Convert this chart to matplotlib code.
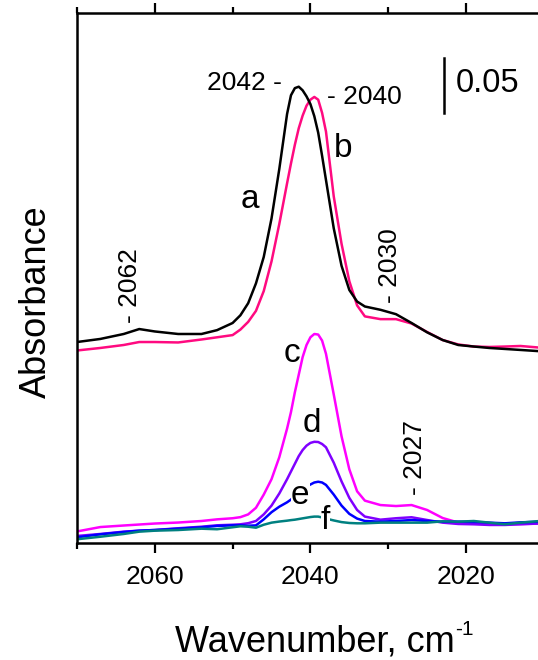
import matplotlib
matplotlib.use('Agg')
import matplotlib.pyplot as plt
from matplotlib.ticker import MultipleLocator

plt.rcParams['font.family'] = ['Liberation Sans', 'DejaVu Sans']

# ---------------- data (absorbance) ----------------
wavenumber = [2070, 2067, 2064, 2062, 2060, 2057, 2054, 2052, 2050, 2049,
              2048, 2047, 2046, 2045, 2044, 2043, 2042.5, 2042, 2041.5, 2041,
              2040.5, 2040, 2039.5, 2039, 2038.5, 2038, 2037, 2036, 2035, 2034,
              2033, 2031, 2029, 2027, 2025, 2023, 2021, 2019, 2017, 2015,
              2013, 2010]

spec_a = [0.1827, 0.1855, 0.1900, 0.1945, 0.1923, 0.1900, 0.1900, 0.1935, 0.2000, 0.2070,
          0.2180, 0.2360, 0.2600, 0.2950, 0.3400, 0.3900, 0.4070, 0.4135, 0.4148, 0.4115,
          0.4060, 0.3990, 0.3880, 0.3730, 0.3520, 0.3300, 0.2860, 0.2520, 0.2300, 0.2195,
          0.2150, 0.2120, 0.2080, 0.2000, 0.1915, 0.1845, 0.1800, 0.1786, 0.1773, 0.1764,
          0.1755, 0.1741]

spec_b = [0.1750, 0.1773, 0.1800, 0.1827, 0.1827, 0.1823, 0.1850, 0.1870, 0.1890, 0.1940,
          0.2010, 0.2110, 0.2290, 0.2560, 0.2900, 0.3270, 0.3450, 0.3620, 0.3770, 0.3885,
          0.3975, 0.4030, 0.4055, 0.4030, 0.3910, 0.3740, 0.3150, 0.2720, 0.2380, 0.2160,
          0.2060, 0.2035, 0.2035, 0.1995, 0.1918, 0.1845, 0.1805, 0.1786, 0.1782, 0.1786,
          0.1791, 0.1773]

spec_c = [0.0105, 0.0145, 0.0159, 0.0168, 0.0177, 0.0186, 0.0200, 0.0215, 0.0225, 0.0235,
          0.0260, 0.0320, 0.0440, 0.0580, 0.0780, 0.1040, 0.1190, 0.1370, 0.1530, 0.1690,
          0.1800, 0.1870, 0.1900, 0.1895, 0.1840, 0.1720, 0.1350, 0.0970, 0.0670, 0.0470,
          0.0385, 0.0345, 0.0336, 0.0345, 0.0300, 0.0227, 0.0186, 0.0177, 0.0173, 0.0173,
          0.0173, 0.0177]

spec_d = [0.0064, 0.0082, 0.0103, 0.0112, 0.0118, 0.0134, 0.0148, 0.0161, 0.0166, 0.0170,
          0.0180, 0.0200, 0.0260, 0.0340, 0.0450, 0.0580, 0.0650, 0.0720, 0.0790, 0.0845,
          0.0885, 0.0910, 0.0920, 0.0918, 0.0900, 0.0870, 0.0730, 0.0560, 0.0410, 0.0300,
          0.0240, 0.0212, 0.0225, 0.0234, 0.0209, 0.0185, 0.0173, 0.0170, 0.0164, 0.0164,
          0.0170, 0.0179]

spec_e = [0.0052, 0.0079, 0.0100, 0.0112, 0.0118, 0.0130, 0.0143, 0.0155, 0.0161, 0.0161,
          0.0157, 0.0160, 0.0215, 0.0280, 0.0330, 0.0370, 0.0395, 0.0425, 0.0455, 0.0485,
          0.0512, 0.0532, 0.0550, 0.0557, 0.0550, 0.0528, 0.0440, 0.0340, 0.0265, 0.0222,
          0.0200, 0.0194, 0.0200, 0.0209, 0.0200, 0.0194, 0.0194, 0.0191, 0.0185, 0.0179,
          0.0188, 0.0194]

spec_f = [0.0034, 0.0057, 0.0082, 0.0103, 0.0112, 0.0118, 0.0130, 0.0125, 0.0143, 0.0152,
          0.0148, 0.0139, 0.0166, 0.0185, 0.0195, 0.0203, 0.0208, 0.0212, 0.0218, 0.0224,
          0.0230, 0.0236, 0.0240, 0.0240, 0.0232, 0.0222, 0.0205, 0.0190, 0.0182, 0.0179,
          0.0179, 0.0185, 0.0185, 0.0185, 0.0185, 0.0197, 0.0194, 0.0200, 0.0185, 0.0170,
          0.0185, 0.0203]

# band positions marked on the plot
peak_labels = ['2062', '2030', '2027']
peak_pos = [2063.2, 2029.8, 2026.6]
peak_base = [0.200, 0.218, 0.0436]

scale_bar = 0.05

# ---------------- figure ----------------
W, H = 538, 660
fig = plt.figure(figsize=(W / 100, H / 100), dpi=100)
ax = fig.add_axes([77 / W, 117 / H, 1 - 77 / W, 530 / H])

lw = 1.8
ax.plot(wavenumber, spec_b, color='#ff0a80', lw=lw)
ax.plot(wavenumber, spec_a, color='black', lw=lw)
ax.plot(wavenumber, spec_c, color='#ff00ff', lw=lw)
ax.plot(wavenumber, spec_d, color='#8000ff', lw=lw)
ax.plot(wavenumber, spec_e, color='#0000ff', lw=lw)
ax.plot(wavenumber, spec_f, color='#008080', lw=lw)

ax.set_xlim(2070, 2010.75)
ax.set_ylim(0, 0.4818)

# curve letters
fs_let = 24
ax.text(2047.8, 0.312, 'a', fontsize=fs_let, ha='center', va='center')
ax.text(2035.8, 0.359, 'b', fontsize=fs_let, ha='center', va='center')
ax.text(2042.4, 0.1724, 'c', fontsize=fs_let, ha='center', va='center')
ax.text(2039.8, 0.1088, 'd', fontsize=fs_let, ha='center', va='center')
ax.text(2041.3, 0.0436, 'e', fontsize=fs_let, ha='center', va='center',
        bbox=dict(facecolor='white', edgecolor='none', pad=0))
ax.text(2038.1, 0.0209, 'f', fontsize=fs_let, ha='center', va='center',
        bbox=dict(facecolor='white', edgecolor='none', pad=0))

# peak maxima
ax.text(2043.65, 0.418, '2042 -', fontsize=19, ha='right', va='center')
ax.text(2037.9, 0.405, '- 2040', fontsize=19, ha='left', va='center')
for lab, pos, base in zip(peak_labels, peak_pos, peak_base):
    ax.text(pos, base, '- ' + lab, fontsize=19, rotation=90, ha='center', va='bottom')

# scale bar 0.05
ax.plot([2022.8, 2022.8], [0.3909, 0.3909 + scale_bar], color='black', lw=1.8)
ax.text(2021.3, 0.418, '%.2f' % scale_bar, fontsize=23.5, ha='left', va='center')

# axes
ax.spines['right'].set_visible(False)
for s in ['left', 'bottom', 'top']:
    ax.spines[s].set_linewidth(1.8)
ax.set_yticks([])
ax.xaxis.set_major_locator(MultipleLocator(20))
ax.xaxis.set_minor_locator(MultipleLocator(10))
ax.tick_params(axis='x', which='major', direction='out', length=7, width=1.6,
               labelsize=19, pad=8.5, top=True)
ax.tick_params(axis='x', which='minor', direction='out', length=4, width=1.6, top=True)

# axis titles (placed in pixels, the frame runs past the right edge)
fig.text(175 / W, 1 - 652 / H, 'Wavenumber, cm', fontsize=26, ha='left', va='baseline')
fig.text(455 / W, 1 - 635 / H, '-1', fontsize=15, ha='left', va='baseline')
fig.text(36 / W, 1 - 302 / H, 'Absorbance', fontsize=26, rotation=90,
         ha='center', va='center')

fig.savefig('out.png', dpi=100)
